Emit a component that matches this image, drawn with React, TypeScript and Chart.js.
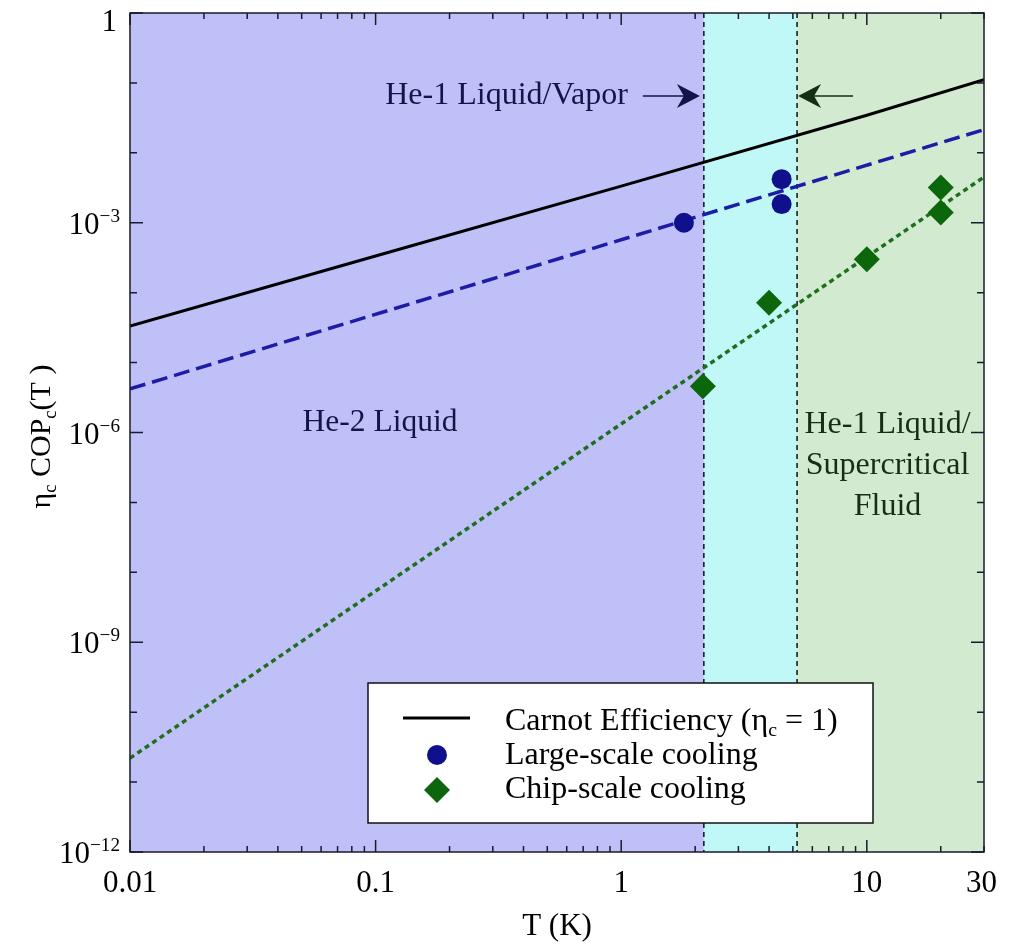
import React, { useEffect, useRef } from 'react';
import { Chart, registerables } from 'chart.js';

Chart.register(...registerables);

// ---- data ----
const carnotT = [0.01, 0.1, 1, 10, 30];
const carnotCOP = [3.33e-5, 3.34e-4, 3.34e-3, 3.45e-2, 0.111];
const largeFitT = [0.01, 30];
const largeFitCOP = [4.2e-6, 0.0215];
const chipFitT = [0.01, 30];
const chipFitCOP = [2.2e-11, 4.5e-3];
const largeT = [1.8, 4.5, 4.5];
const largeCOP = [1.0e-3, 4.2e-3, 1.85e-3];
const chipT = [2.15, 4.0, 10, 20, 20];
const chipCOP = [4.6e-6, 7.2e-5, 3.0e-4, 3.2e-3, 1.4e-3];
const phaseBounds = [0.01, 2.17, 5.2, 30];
const phaseColors = ['#c0c0f8', '#c0f8f8', '#d2ead0'];
const xTickValues = [0.01, 0.1, 1, 10, 30];
const xTickLabels = ['0.01', '0.1', '1', '10', '30'];
const yTickValues = [1e-12, 1e-9, 1e-6, 1e-3, 1];
const yTickBase = ['10', '10', '10', '10', '1'];
const yTickExps = ['\u221212', '\u22129', '\u22126', '\u22123', ''];
const legendLabels = ['Carnot Efficiency', 'Large-scale cooling', 'Chip-scale cooling'];

const FONT = '"Liberation Serif", "Times New Roman", serif';

type Part = [string, number]; // 0 normal, 1 sub, 2 sup

function partFont(size: number, kind: number) {
  const s = kind === 0 ? size : size * 0.62;
  return `${s}px ${FONT}`;
}
function richWidth(ctx: CanvasRenderingContext2D, parts: Part[], size: number) {
  let w = 0;
  for (const [t, k] of parts) {
    ctx.font = partFont(size, k);
    w += ctx.measureText(t).width;
  }
  return w;
}
function drawRich(ctx: CanvasRenderingContext2D, parts: Part[], x: number, y: number, size: number, align: string) {
  const w = richWidth(ctx, parts, size);
  let cx = align === 'center' ? x - w / 2 : align === 'right' ? x - w : x;
  ctx.textAlign = 'left';
  ctx.textBaseline = 'alphabetic';
  for (const [t, k] of parts) {
    ctx.font = partFont(size, k);
    const off = k === 1 ? size * 0.2 : k === 2 ? -size * 0.38 : 0;
    ctx.fillText(t, cx, y + off);
    cx += ctx.measureText(t).width;
  }
}

function arrow(ctx: CanvasRenderingContext2D, tipX: number, y: number, len: number, dir: number, color: string) {
  ctx.save();
  ctx.strokeStyle = color;
  ctx.fillStyle = color;
  ctx.lineWidth = 1.5;
  ctx.setLineDash([]);
  ctx.beginPath();
  ctx.moveTo(tipX - dir * len, y);
  ctx.lineTo(tipX - dir * 15, y);
  ctx.stroke();
  ctx.beginPath();
  ctx.moveTo(tipX, y);
  ctx.lineTo(tipX - dir * 23, y - 12);
  ctx.lineTo(tipX - dir * 16, y);
  ctx.lineTo(tipX - dir * 23, y + 12);
  ctx.closePath();
  ctx.fill();
  ctx.restore();
}

const decorPlugin = {
  id: 'decor',
  beforeDatasetsDraw(chart: any) {
    const { ctx, chartArea: a, scales } = chart;
    const x = scales.x;
    ctx.save();
    for (let i = 0; i < phaseColors.length; i++) {
      const x0 = x.getPixelForValue(phaseBounds[i]);
      const x1 = x.getPixelForValue(phaseBounds[i + 1]);
      ctx.fillStyle = phaseColors[i];
      ctx.fillRect(x0, a.top, x1 - x0, a.bottom - a.top);
    }
    ctx.strokeStyle = '#111';
    ctx.lineWidth = 1.5;
    ctx.setLineDash([5, 4]);
    for (const b of [phaseBounds[1], phaseBounds[2]]) {
      const px = x.getPixelForValue(b);
      ctx.beginPath();
      ctx.moveTo(px, a.top);
      ctx.lineTo(px, a.bottom);
      ctx.stroke();
    }
    ctx.restore();
  },
  afterDatasetsDraw(chart: any) {
    const { ctx, chartArea: a, scales } = chart;
    const x = scales.x;
    const y = scales.y;
    ctx.save();
    // frame
    ctx.setLineDash([]);
    ctx.strokeStyle = '#1a1a2a';
    ctx.lineWidth = 1.5;
    ctx.strokeRect(a.left, a.top, a.right - a.left, a.bottom - a.top);
    // x ticks (inward, mirrored)
    ctx.beginPath();
    for (let e = -2; e <= 1; e++) {
      for (let m = 1; m <= 9; m++) {
        const v = m * Math.pow(10, e);
        if (v < x.min * 0.999 || v > x.max * 1.001) continue;
        const len = m === 1 ? 12 : 6;
        const px = x.getPixelForValue(v);
        ctx.moveTo(px, a.bottom);
        ctx.lineTo(px, a.bottom - len);
        ctx.moveTo(px, a.top);
        ctx.lineTo(px, a.top + len);
      }
    }
    // y ticks
    for (let e = -12; e <= 0; e++) {
      const len = e % 3 === 0 ? 13 : 7;
      const py = y.getPixelForValue(Math.pow(10, e));
      ctx.moveTo(a.left, py);
      ctx.lineTo(a.left + len, py);
      ctx.moveTo(a.right, py);
      ctx.lineTo(a.right - len, py);
    }
    ctx.stroke();

    // annotations
    const b1 = x.getPixelForValue(phaseBounds[1]);
    const b2 = x.getPixelForValue(phaseBounds[2]);
    const navy = '#141448';
    const dgreen = '#143014';
    ctx.fillStyle = navy;
    drawRich(ctx, [['He-1 Liquid/Vapor', 0]], b1 - 76, 104, 32, 'right');
    arrow(ctx, b1 - 4, 96, 57, 1, navy);
    arrow(ctx, b2 + 1, 96, 55, -1, dgreen);
    ctx.fillStyle = navy;
    drawRich(ctx, [['He-2 Liquid', 0]], 380, 431, 31.5, 'center');
    ctx.fillStyle = dgreen;
    const gx = (b2 + a.right) / 2 - 3;
    drawRich(ctx, [['He-1 Liquid/', 0]], gx, 433, 32, 'center');
    drawRich(ctx, [['Supercritical', 0]], gx, 474, 32, 'center');
    drawRich(ctx, [['Fluid', 0]], gx, 515, 32, 'center');

    // legend
    const lx = 368, ly = 683, lw = 505, lh = 140;
    ctx.fillStyle = '#ffffff';
    ctx.fillRect(lx, ly, lw, lh);
    ctx.strokeStyle = '#111';
    ctx.lineWidth = 1.5;
    ctx.strokeRect(lx, ly, lw, lh);
    const ds = chart.data.datasets;
    // line sample
    ctx.strokeStyle = ds[2].borderColor;
    ctx.lineWidth = 3;
    ctx.beginPath();
    ctx.moveTo(403, 718);
    ctx.lineTo(470, 718);
    ctx.stroke();
    // circle sample
    ctx.fillStyle = ds[0].backgroundColor;
    ctx.beginPath();
    ctx.arc(437, 755, 10, 0, Math.PI * 2);
    ctx.fill();
    // diamond sample
    ctx.fillStyle = ds[1].backgroundColor;
    ctx.beginPath();
    ctx.moveTo(437, 790 - 13);
    ctx.lineTo(437 + 13, 790);
    ctx.lineTo(437, 790 + 13);
    ctx.lineTo(437 - 13, 790);
    ctx.closePath();
    ctx.fill();
    ctx.fillStyle = '#000';
    drawRich(ctx, [[legendLabels[0] + ' (\u03b7', 0], ['c', 1], [' = 1)', 0]], 505, 730, 32, 'left');
    drawRich(ctx, [[legendLabels[1], 0]], 505, 764, 32, 'left');
    drawRich(ctx, [[legendLabels[2], 0]], 505, 798, 32, 'left');
    ctx.restore();
  },
  afterDraw(chart: any) {
    const { ctx, chartArea: a, scales } = chart;
    const x = scales.x;
    const y = scales.y;
    ctx.save();
    ctx.fillStyle = '#000';
    // x tick labels
    xTickValues.forEach((v, i) => {
      const px = x.getPixelForValue(v);
      const w = richWidth(ctx, [[xTickLabels[i], 0]], 31);
      let cx = px;
      if (cx + w / 2 > a.right + 13) cx = a.right + 13 - w / 2;
      drawRich(ctx, [[xTickLabels[i], 0]], cx, 892, 31, 'center');
    });
    // y tick labels
    yTickValues.forEach((v, i) => {
      const py = y.getPixelForValue(v);
      let base = py + 11;
      if (base < a.top + 18) base = a.top + 18;
      const parts: Part[] = yTickExps[i] ? [[yTickBase[i], 0], [yTickExps[i], 2]] : [[yTickBase[i], 0]];
      drawRich(ctx, parts, yTickExps[i] ? 120 : 117, base, 31, 'right');
    });
    // axis titles
    drawRich(ctx, [['T (K)', 0]], (a.left + a.right) / 2, 935, 31, 'center');
    ctx.save();
    ctx.translate(50, (a.top + a.bottom) / 2 + 4);
    ctx.rotate(-Math.PI / 2);
    drawRich(ctx, [['\u03b7', 0], ['c', 1], [' COP', 0], ['c', 1], ['(T )', 0]], 0, 0, 30, 'center');
    ctx.restore();
    ctx.restore();
  },
};

export default function App() {
  const ref = useRef<HTMLCanvasElement>(null);
  useEffect(() => {
    document.body.style.margin = '0';
    const canvas = ref.current;
    if (!canvas) return;
    const pts = (xs: number[], ys: number[]) => xs.map((v, i) => ({ x: v, y: ys[i] }));
    const chart = new Chart(canvas, {
      type: 'scatter',
      data: {
        datasets: [
          {
            label: legendLabels[1],
            data: pts(largeT, largeCOP),
            pointStyle: 'circle',
            pointRadius: 10,
            pointHoverRadius: 10,
            backgroundColor: '#10108c',
            borderColor: '#10108c',
            borderWidth: 0,
            order: 0,
          },
          {
            label: legendLabels[2],
            data: pts(chipT, chipCOP),
            pointStyle: 'rectRot',
            pointRadius: 13,
            pointHoverRadius: 13,
            backgroundColor: '#0c660c',
            borderColor: '#0c660c',
            borderWidth: 0,
            order: 0,
          },
          {
            label: legendLabels[0],
            data: pts(carnotT, carnotCOP),
            showLine: true,
            pointRadius: 0,
            borderColor: '#000000',
            borderWidth: 3,
            order: 1,
          },
          {
            label: 'Large-scale fit',
            data: pts(largeFitT, largeFitCOP),
            showLine: true,
            pointRadius: 0,
            borderColor: '#1c1ca6',
            borderWidth: 3.5,
            borderDash: [16, 7],
            order: 1,
          },
          {
            label: 'Chip-scale fit',
            data: pts(chipFitT, chipFitCOP),
            showLine: true,
            pointRadius: 0,
            borderColor: '#1e6e1e',
            borderWidth: 3.5,
            borderDash: [5, 4],
            order: 1,
          },
        ],
      },
      options: {
        animation: false,
        responsive: false,
        devicePixelRatio: 1,
        layout: { padding: { left: 130, top: 10, right: 36, bottom: 92 } },
        plugins: { legend: { display: false }, tooltip: { enabled: false } },
        scales: {
          x: {
            type: 'logarithmic',
            min: 0.01,
            max: 30,
            ticks: { display: false },
            grid: { display: false, drawTicks: false },
            border: { display: false },
          },
          y: {
            type: 'logarithmic',
            min: 1e-12,
            max: 1,
            ticks: { display: false },
            grid: { display: false, drawTicks: false },
            border: { display: false },
          },
        },
      },
      plugins: [decorPlugin],
    } as any);
    return () => chart.destroy();
  }, []);
  return (
    <div style={{ width: 1020, height: 944 }}>
      <canvas ref={ref} width={1020} height={944} style={{ display: 'block' }} />
    </div>
  );
}
